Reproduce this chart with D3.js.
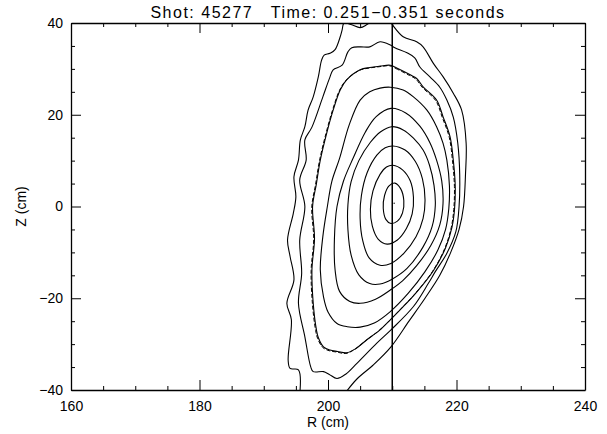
<!DOCTYPE html>
<html>
<head>
<meta charset="utf-8">
<script src="https://cdn.jsdelivr.net/npm/d3@7"></script>
<style>
  body { margin: 0; background: #fff; }
  text { font-family: "Liberation Sans", Arial, sans-serif; fill: #000; }
  .axis path, .axis line { stroke: #000; }
</style>
</head>
<body>
<div id="chart"></div>
<script>
// flux surfaces, [R (cm), Z (cm)]
var surf1 = [[210.4,5.1],[211.3,3.9],[211.8,1.3],[211.6,-1.4],[210.8,-3.2],[209.8,-3.7],[209.0,-2.8],[208.6,-0.4],[208.8,2.4],[209.5,4.5]];
var surf2 = [[210.1,9.0],[211.6,8.0],[212.8,5.6],[213.3,2.0],[213.1,-1.6],[212.2,-4.8],[210.8,-7.3],[209.2,-8.2],[207.8,-7.1],[206.9,-4.3],[206.6,-0.6],[207.0,3.4],[208.1,7.0],[209.1,8.6]];
var surf3 = [[210.1,13.2],[212.0,12.3],[213.6,9.8],[214.7,6.0],[215.1,1.5],[214.8,-2.6],[213.7,-6.6],[211.8,-10.2],[209.8,-12.4],[208.1,-12.8],[206.4,-11.2],[205.4,-7.4],[205.0,-2.6],[205.2,2.4],[206.1,7.4],[207.6,11.2],[208.9,12.8]];
var surf4 = [[209.9,17.4],[211.7,16.7],[213.3,14.9],[214.8,12.3],[215.8,9.0],[216.5,4.6],[216.7,0.2],[216.2,-4.4],[214.8,-8.8],[212.3,-13.5],[209.9,-15.9],[208.1,-16.9],[206.5,-16.8],[204.8,-14.9],[203.6,-10.6],[203.1,-5.0],[203.1,0.4],[203.6,5.4],[204.8,10.0],[206.6,14.0],[208.2,16.3]];
var surf5 = [[209.8,21.4],[212.1,20.4],[214.3,17.5],[215.9,13.8],[216.9,10.1],[217.7,5.6],[217.9,0.6],[217.4,-4.0],[216.0,-8.5],[213.8,-12.9],[211.6,-16.2],[209.7,-18.2],[207.4,-20.2],[205.0,-21.1],[203.4,-20.7],[201.8,-18.5],[201.1,-13.8],[201.0,-7.0],[201.4,0.0],[202.4,5.5],[203.9,10.5],[205.8,16.2],[207.5,19.6]];
var surf6 = [[209.7,26.0],[211.7,25.4],[213.3,23.9],[215.4,21.0],[216.9,17.4],[217.9,13.8],[218.5,10.1],[218.9,4.5],[218.8,-0.5],[218.3,-5.0],[217.1,-9.5],[215.1,-14.2],[212.5,-18.9],[209.7,-22.9],[207.2,-25.4],[205.0,-26.3],[203.0,-26.2],[201.4,-25.5],[200.0,-23.0],[199.3,-19.7],[198.8,-13.8],[199.2,-6.5],[199.9,0.0],[200.6,5.5],[201.8,10.5],[203.3,17.8],[205.0,23.2],[206.5,25.0],[208.1,25.8]];
// last closed surface (drawn twice: solid + dashed boundary)
var surf7 = [[209.7,30.8],[210.7,30.2],[212.8,28.7],[213.8,27.9],[214.8,26.1],[216.9,23.2],[217.9,19.6],[219.0,15.2],[219.5,10.1],[219.8,4.5],[219.7,-0.5],[219.3,-4.5],[218.3,-9.0],[216.4,-14.0],[213.6,-19.0],[211.6,-22.0],[209.7,-24.7],[208.0,-27.0],[206.0,-29.1],[204.3,-31.0],[202.9,-31.9],[201.5,-31.6],[200.3,-31.3],[199.3,-30.6],[198.5,-28.6],[198.2,-26.9],[197.7,-21.1],[197.5,-13.8],[197.9,-7.0],[197.6,0.0],[198.2,5.0],[198.8,10.1],[199.8,16.0],[200.8,21.0],[201.9,25.4],[202.9,27.6],[205.0,29.8],[206.5,30.3],[208.1,30.6]];
var surf8 = [[208.1,35.9],[209.7,35.2],[210.4,34.6],[212.3,33.5],[213.5,32.4],[214.3,30.4],[215.9,28.2],[217.4,26.0],[218.5,23.2],[219.5,19.5],[220.2,13.8],[220.5,7.0],[220.4,0.0],[219.9,-5.5],[218.5,-10.2],[216.7,-14.2],[215.6,-16.8],[213.3,-21.8],[209.8,-26.9],[207.6,-29.8],[204.5,-34.2],[202.8,-36.5],[201.4,-37.5],[200.2,-36.6],[199.3,-36.0],[197.7,-36.0],[197.3,-34.9],[196.4,-28.4],[195.4,-21.1],[195.9,-14.6],[195.6,-7.3],[196.4,0.0],[195.6,5.8],[196.6,10.1],[196.4,14.5],[197.5,17.3],[199.2,23.9],[200.3,28.2],[200.8,29.8],[202.2,30.8],[203.1,33.7],[203.7,34.6],[205.0,34.8],[206.5,34.8]];
// outer open surface, leaves the box at top and bottom
var surf9 = [[195.6,-41.0],[195.4,-35.6],[194.1,-35.3],[193.8,-33.5],[194.3,-24.7],[193.6,-21.1],[194.7,-16.0],[194.1,-10.9],[193.7,-7.3],[194.6,-1.5],[195.0,2.1],[194.7,6.5],[195.4,10.1],[195.7,14.5],[196.4,17.4],[196.9,21.0],[197.7,23.9],[198.5,28.3],[199.0,31.9],[199.4,33.0],[200.3,33.4],[201.1,34.2],[201.9,37.0],[202.2,38.5],[202.5,40.0],[203.7,39.6],[205.0,39.0],[206.0,39.6],[206.7,40.3],[208.0,41.5],[209.2,41.0],[209.8,40.0],[211.7,37.0],[213.8,35.9],[214.8,34.8],[216.4,31.2],[217.9,28.3],[219.5,24.7],[220.8,21.0],[221.5,13.8],[221.4,7.0],[221.1,0.0],[220.4,-5.0],[219.1,-10.0],[217.4,-15.0],[215.1,-20.0],[212.6,-25.0],[209.8,-30.6],[207.0,-34.6],[204.5,-37.6],[202.5,-41.0]];

var closedSurfaces = [surf1, surf2, surf3, surf4, surf5, surf6, surf7, surf8];
var magAxis = [210.3, 0.7];
var chordR = 210;

var rTicks = [160, 180, 200, 220, 240];
var zTicks = [-40, -20, 0, 20, 40];
var rMinor = [165, 170, 175, 185, 190, 195, 205, 210, 215, 225, 230, 235];
var zMinor = [-35, -30, -25, -15, -10, -5, 5, 10, 15, 25, 30, 35];

var title = "Shot: 45277   Time: 0.251\u22120.351 seconds";
var xLabel = "R (cm)";
var yLabel = "Z (cm)";

var W = 607, H = 434;
var margin = {top: 23, right: 22, bottom: 44, left: 71};
var width = W - margin.left - margin.right,
    height = H - margin.top - margin.bottom;

var x = d3.scaleLinear().domain([160, 240]).range([0, width]);
var y = d3.scaleLinear().domain([-40, 40]).range([height, 0]);

var svg = d3.select("#chart").append("svg")
    .attr("width", W).attr("height", H);

var g = svg.append("g")
    .attr("transform", "translate(" + margin.left + "," + margin.top + ")");

g.append("clipPath").attr("id", "plotclip")
  .append("rect").attr("width", width).attr("height", height);

var plot = g.append("g").attr("clip-path", "url(#plotclip)");

var closedLine = d3.line()
    .x(function(d) { return x(d[0]); })
    .y(function(d) { return y(d[1]); })
    .curve(d3.curveCatmullRomClosed.alpha(0.5));

var openLine = d3.line()
    .x(function(d) { return x(d[0]); })
    .y(function(d) { return y(d[1]); })
    .curve(d3.curveCatmullRom.alpha(0.5));

plot.selectAll("path.surf")
    .data(closedSurfaces)
  .enter().append("path")
    .attr("class", "surf")
    .attr("d", closedLine)
    .style("fill", "none")
    .style("stroke", "#000")
    .style("stroke-width", 1.1);

// dashed boundary on top of the last closed surface
plot.append("path")
    .attr("d", closedLine(surf7))
    .attr("transform", "translate(-0.8,0.6)")
    .style("fill", "none")
    .style("stroke", "#000")
    .style("stroke-width", 1)
    .style("stroke-dasharray", "4,2");

plot.append("path")
    .attr("d", openLine(surf9))
    .style("fill", "none")
    .style("stroke", "#000")
    .style("stroke-width", 1.1);

// vertical chord
plot.append("line")
    .attr("x1", x(chordR)).attr("x2", x(chordR))
    .attr("y1", 0).attr("y2", height)
    .style("stroke", "#000")
    .style("stroke-width", 1.5);

// magnetic axis
plot.append("circle")
    .attr("cx", x(magAxis[0])).attr("cy", y(magAxis[1]))
    .attr("r", 0.8)
    .style("fill", "#333");

// axes: IDL style, ticks inward on all four sides
function addAxis(axisFn, scale, major, minor, showLabels, transform) {
  var ax = g.append("g").attr("class", "axis").attr("transform", transform);
  ax.call(axisFn(scale).tickValues(major).tickSizeInner(-10).tickSizeOuter(0)
      .tickPadding(showLabels ? (axisFn === d3.axisLeft ? 8 : 11) : 0)
      .tickFormat(showLabels ? d3.format("d") : ""));
  var mn = g.append("g").attr("class", "axis").attr("transform", transform);
  mn.call(axisFn(scale).tickValues(minor).tickSizeInner(-4).tickSizeOuter(0).tickFormat(""));
  mn.select(".domain").remove();
  ax.selectAll("text").style("font-size", "14px");
  ax.select(".domain").style("stroke-width", 1.3);
}

addAxis(d3.axisBottom, x, rTicks, rMinor, true, "translate(0," + height + ")");
addAxis(d3.axisTop, x, rTicks, rMinor, false, "translate(0,0)");
addAxis(d3.axisLeft, y, zTicks, zMinor, true, "translate(0,0)");
addAxis(d3.axisRight, y, zTicks, zMinor, false, "translate(" + width + ",0)");

// labels
svg.append("text")
    .attr("x", margin.left + width / 2).attr("y", 18)
    .attr("text-anchor", "middle")
    .style("font-size", "16px")
    .style("letter-spacing", "1.5px")
    .style("white-space", "pre")
    .text(title);

svg.append("text")
    .attr("x", margin.left + width / 2).attr("y", 427)
    .attr("text-anchor", "middle")
    .style("font-size", "14px")
    .style("white-space", "pre")
    .text(xLabel);

svg.append("text")
    .attr("transform", "translate(26," + (margin.top + height / 2) + ") rotate(-90)")
    .attr("text-anchor", "middle")
    .style("font-size", "14px")
    .style("white-space", "pre")
    .text(yLabel);
</script>
</body>
</html>
